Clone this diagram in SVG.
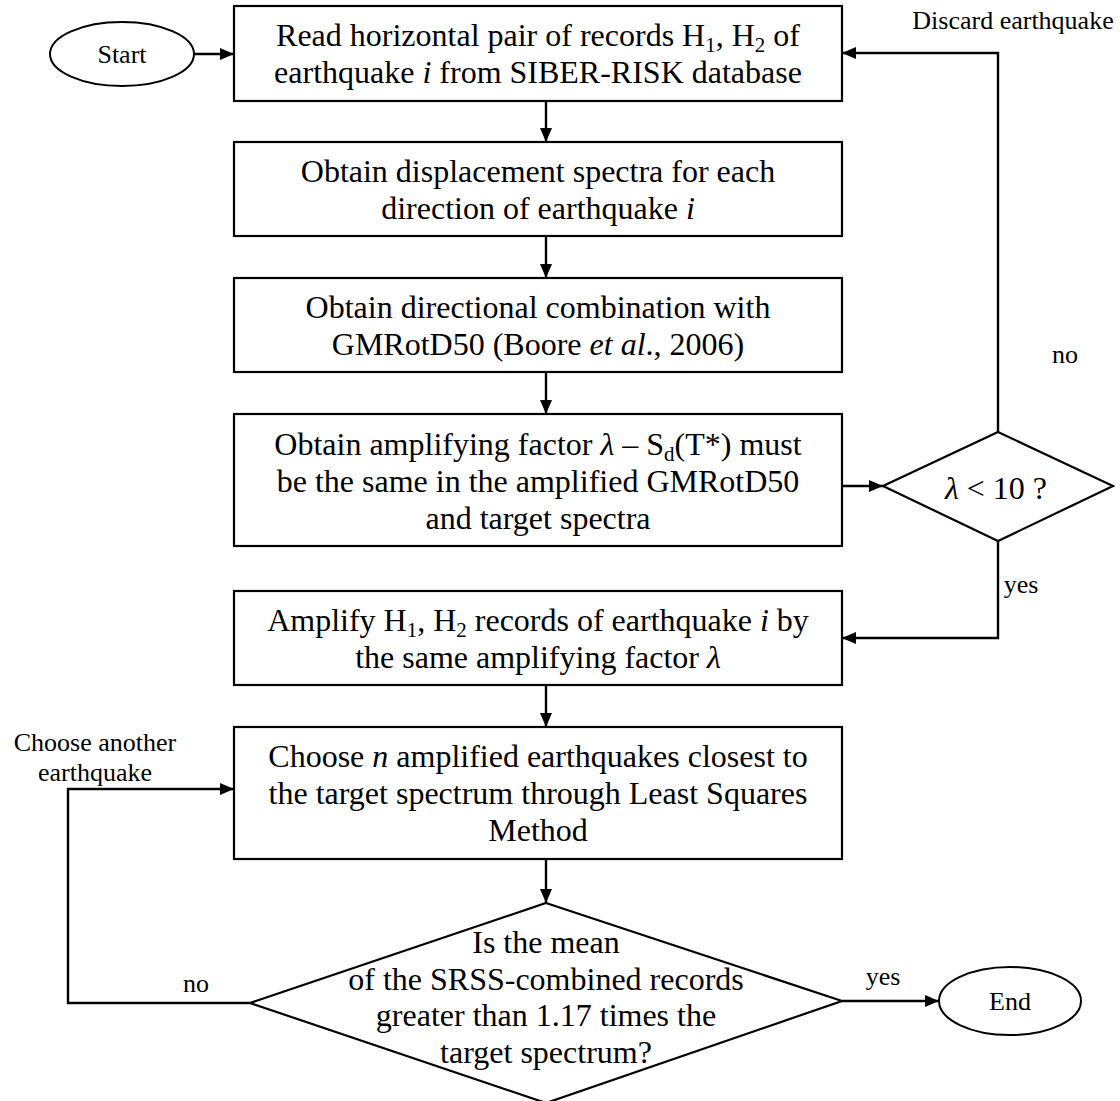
<svg xmlns="http://www.w3.org/2000/svg" width="1120" height="1101" viewBox="0 0 1120 1101">
<style>
text{font-family:"Liberation Serif","Times New Roman",serif;fill:#000}
.t{font-size:32px;text-anchor:middle}
.s{font-size:26px}
.c{text-anchor:middle}
.box{fill:#fff;stroke:#000;stroke-width:2.2}
.ln{fill:none;stroke:#000;stroke-width:2.4}
.i{font-style:italic}
.sub{font-size:21px}
</style>
<defs>
<marker id="ah" markerUnits="userSpaceOnUse" markerWidth="14" markerHeight="12" refX="14" refY="6" orient="auto">
<path d="M0,0 L14,6 L0,12 z" fill="#000"/>
</marker>
</defs>
<rect width="1120" height="1101" fill="#fff"/>
<g id="connectors">
<path class="ln" d="M194,54 H234" marker-end="url(#ah)"/>
<path class="ln" d="M546,101 V142" marker-end="url(#ah)"/>
<path class="ln" d="M546,236 V278" marker-end="url(#ah)"/>
<path class="ln" d="M546,372 V414" marker-end="url(#ah)"/>
<path class="ln" d="M842,486 H883" marker-end="url(#ah)"/>
<path class="ln" d="M998,432 V53 H842" marker-end="url(#ah)"/>
<path class="ln" d="M998,541 V638 H842" marker-end="url(#ah)"/>
<path class="ln" d="M546,685 V727" marker-end="url(#ah)"/>
<path class="ln" d="M546,859 V903" marker-end="url(#ah)"/>
<path class="ln" d="M250,1003 H68 V789 H234" marker-end="url(#ah)"/>
<path class="ln" d="M842,1001 H939" marker-end="url(#ah)"/>
<text class="s c" x="1013" y="29">Discard earthquake</text>
<text class="s c" x="1065" y="363">no</text>
<text class="s c" x="1021" y="593">yes</text>
<text class="s c" x="95" y="751">Choose another</text>
<text class="s c" x="95" y="781">earthquake</text>
<text class="s c" x="196" y="992">no</text>
<text class="s c" x="883" y="985">yes</text>
</g>
<g id="start">
<ellipse cx="122" cy="54" rx="72" ry="32" fill="#fff" stroke="#000" stroke-width="2"/>
<text class="s c" x="122" y="63">Start</text>
</g>
<g id="read">
<rect class="box" x="234" y="6" width="608" height="95"/>
<text class="t" x="538" y="46">Read horizontal pair of records H<tspan class="sub" baseline-shift="-6">1</tspan>, H<tspan class="sub" baseline-shift="-6">2</tspan> of</text>
<text class="t" x="538" y="83">earthquake <tspan class="i">i</tspan> from SIBER-RISK database</text>
</g>
<g id="displacement">
<rect class="box" x="234" y="142" width="608" height="94"/>
<text class="t" x="538" y="182">Obtain displacement spectra for each</text>
<text class="t" x="538" y="219">direction of earthquake <tspan class="i">i</tspan></text>
</g>
<g id="combination">
<rect class="box" x="234" y="278" width="608" height="94"/>
<text class="t" x="538" y="318">Obtain directional combination with</text>
<text class="t" x="538" y="355">GMRotD50 (Boore <tspan class="i">et al</tspan>., 2006)</text>
</g>
<g id="factor">
<rect class="box" x="234" y="414" width="608" height="132"/>
<text class="t" x="538" y="455">Obtain amplifying factor <tspan class="i">λ</tspan> – S<tspan class="sub" baseline-shift="-6">d</tspan>(T*) must</text>
<text class="t" x="538" y="492">be the same in the amplified GMRotD50</text>
<text class="t" x="538" y="529">and target spectra</text>
</g>
<g id="check-lambda">
<polygon points="883,486 998,432 1113,486 998,541" fill="#fff" stroke="#000" stroke-width="2.2"/>
<text class="t" x="996" y="499"><tspan class="i">λ</tspan> &lt; 10 ?</text>
</g>
<g id="amplify">
<rect class="box" x="234" y="591" width="608" height="94"/>
<text class="t" x="538" y="631">Amplify H<tspan class="sub" baseline-shift="-6">1</tspan>, H<tspan class="sub" baseline-shift="-6">2</tspan> records of earthquake <tspan class="i">i</tspan> by</text>
<text class="t" x="538" y="668">the same amplifying factor <tspan class="i">λ</tspan></text>
</g>
<g id="choose">
<rect class="box" x="234" y="727" width="608" height="132"/>
<text class="t" x="538" y="767">Choose <tspan class="i">n</tspan> amplified earthquakes closest to</text>
<text class="t" x="538" y="804">the target spectrum through Least Squares</text>
<text class="t" x="538" y="841">Method</text>
</g>
<g id="check-mean">
<polygon points="546,903 842,1001 546,1103 250,1003" fill="#fff" stroke="#000" stroke-width="2.2"/>
<text class="t" x="546" y="953">Is the mean</text>
<text class="t" x="546" y="990">of the SRSS-combined records</text>
<text class="t" x="546" y="1026">greater than 1.17 times the</text>
<text class="t" x="546" y="1063">target spectrum?</text>
</g>
<g id="end">
<ellipse cx="1010" cy="1001" rx="71" ry="34" fill="#fff" stroke="#000" stroke-width="2"/>
<text class="s c" x="1010" y="1010">End</text>
</g>
</svg>
